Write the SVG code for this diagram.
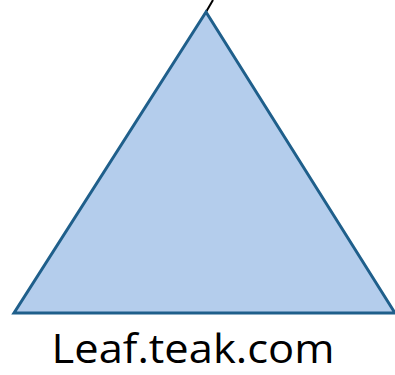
<svg xmlns="http://www.w3.org/2000/svg" width="395" height="375" viewBox="0 0 395 375">
<style>
.tri{fill:#b4cdec;stroke:#1f5f8b;stroke-width:3;stroke-linejoin:miter}
.edge{stroke:#000;stroke-width:2;fill:none}
.lbl{font-family:"Open Sans","Noto Sans",sans-serif;font-size:41px;fill:#000}
</style>
<g id="connectors"><line class="edge" x1="206" y1="12" x2="213" y2="0"/></g>
<g id="leaf">
<polygon class="tri" points="206,12 14,313 395,313"/>
<text class="lbl" x="193" y="363" text-anchor="middle" textLength="283" lengthAdjust="spacingAndGlyphs">Leaf.teak.com</text>
</g>
</svg>
